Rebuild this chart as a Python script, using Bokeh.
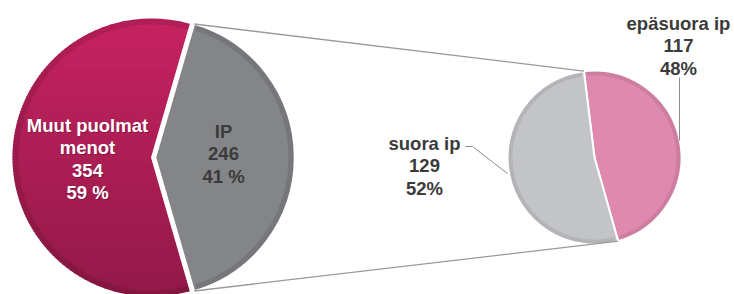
import math
import numpy as np
from bokeh.plotting import figure
from bokeh.models import Range1d
from bokeh.core.properties import value
from bokeh.embed import file_html
from bokeh.resources import INLINE

# ---- data ----
main_labels = ["Muut puolmat menot", "IP"]
main_values = [354, 246]
sub_labels = ["suora ip", "epäsuora ip"]
sub_values = [129, 117]

# ---- styles ----
MUUT_TOP = (198, 34, 96)
MUUT_BOT = (146, 25, 72)
C_IP = "#848589"
C_SUORA = "#C3C4C7"
C_EPA = "#DF89AE"
TXT_DARK = "#3B3B3B"
FONT = value("Liberation Sans")
FS = "18.5px"
LH = 22.4

W, H = 734, 294
p = figure(width=W, height=H, output_backend="svg", toolbar_location=None,
           x_range=Range1d(0, W), y_range=Range1d(0, H),
           min_border=0, outline_line_color=None, background_fill_color="white")
p.axis.visible = False
p.grid.visible = False

def Y(ry):
    return 294 - ry

def hexc(c):
    return "#%02x%02x%02x" % tuple(int(round(v)) for v in c)

# ---- big pie ----
total = sum(main_values)
ip_frac = main_values[1] / total
half = ip_frac * math.pi
R1 = 139
cy1 = Y(157)
cx_muut, cx_ip = 151, 155

# gradient bands of the circle (top light -> bottom dark)
band = 3.0
n_b = int(math.ceil(2 * R1 / band))
xs_l, ys_l, cols = [], [], []
for k in range(n_b):
    top = cy1 + R1 - k * band + 0.6
    bot = max(cy1 + R1 - (k + 1) * band - 0.6, cy1 - R1)
    top = min(top, cy1 + R1)
    yy = np.linspace(bot, top, 12)
    dx = np.sqrt(np.clip(R1 ** 2 - (yy - cy1) ** 2, 0, None))
    xs_l.append(list(cx_muut - dx) + list((cx_muut + dx)[::-1]))
    ys_l.append(list(yy) + list(yy[::-1]))
    t = k / (n_b - 1)
    cols.append(hexc([MUUT_TOP[i] + (MUUT_BOT[i] - MUUT_TOP[i]) * t for i in range(3)]))
p.patches(xs=xs_l, ys=ys_l, fill_color=cols, line_color=None)
# darker rim
p.annular_wedge(x=cx_muut, y=cy1, inner_radius=R1 - 6, outer_radius=R1,
                start_angle=half, end_angle=2 * math.pi - half,
                fill_color="black", fill_alpha=0.10, line_color=None)
# clear the IP sector of the base circle
p.wedge(x=cx_muut, y=cy1, radius=R1 + 2, start_angle=-half, end_angle=half,
        fill_color="white", line_color="white", line_width=1)
p.wedge(x=cx_ip, y=cy1, radius=R1, start_angle=-half, end_angle=half,
        fill_color=C_IP, line_color="white", line_width=1.5)
p.annular_wedge(x=cx_ip, y=cy1, inner_radius=R1 - 6, outer_radius=R1 - 0.8,
                start_angle=-half + 0.02, end_angle=half - 0.02,
                fill_color="black", fill_alpha=0.10, line_color=None)

# ---- small pie ----
sub_total = sum(sub_values)
R2 = 87
cx2, cy2 = 594, Y(157)
top_ang = math.radians(97)
epa_frac = sub_values[1] / sub_total
bot_ang = top_ang - epa_frac * 2 * math.pi

p.wedge(x=cx2, y=cy2, radius=R2, start_angle=bot_ang, end_angle=top_ang,
        fill_color=C_EPA, line_color="white", line_width=2)
p.wedge(x=cx2, y=cy2, radius=R2, start_angle=top_ang, end_angle=bot_ang + 2 * math.pi,
        fill_color=C_SUORA, line_color="white", line_width=2)
p.annular_wedge(x=cx2, y=cy2, inner_radius=R2 - 5, outer_radius=R2 - 1,
                start_angle=bot_ang + 0.03, end_angle=top_ang - 0.03,
                fill_color="black", fill_alpha=0.08, line_color=None)
p.annular_wedge(x=cx2, y=cy2, inner_radius=R2 - 5, outer_radius=R2 - 1,
                start_angle=top_ang + 0.03, end_angle=bot_ang + 2 * math.pi - 0.03,
                fill_color="black", fill_alpha=0.08, line_color=None)

# ---- connector lines ----
ip_top = (cx_ip + R1 * math.cos(half), cy1 + R1 * math.sin(half))
ip_bot = (cx_ip + R1 * math.cos(-half), cy1 + R1 * math.sin(-half))
sub_top = (cx2 + R2 * math.cos(top_ang), cy2 + R2 * math.sin(top_ang))
sub_bot = (cx2 + R2 * math.cos(bot_ang), cy2 + R2 * math.sin(bot_ang))
p.segment(x0=[ip_top[0], ip_bot[0]], y0=[ip_top[1], ip_bot[1]],
          x1=[sub_top[0], sub_bot[0]], y1=[sub_top[1], sub_bot[1]],
          line_color="#9A9A9A", line_width=1.3)

# ---- leader lines ----
p.line(x=[465, 472, 507], y=[Y(146), Y(146), Y(173)], line_color="#8C8C8C", line_width=1)
p.line(x=[679, 679], y=[Y(77), Y(140)], line_color="#8C8C8C", line_width=1)

# ---- labels ----
def label(lines, x, ry0, color, shadow=False):
    ys = [Y(ry0 + i * LH) for i in range(len(lines))]
    if shadow:
        p.text(x=[x + 1] * len(lines), y=[v - 1 for v in ys], text=lines,
               text_align="center", text_baseline="middle", text_color="black",
               text_alpha=0.25, text_font=FONT, text_font_size=FS,
               text_font_style="bold")
    p.text(x=[x] * len(lines), y=ys, text=lines, text_align="center",
           text_baseline="middle", text_color=color, text_font=FONT,
           text_font_size=FS, text_font_style="bold")

def pct(v, t):
    return round(100 * v / t)

label(["Muut puolmat", "menot", f"{main_values[0]}", f"{pct(main_values[0], total)} %"],
      87, 125, "white", shadow=True)
label([main_labels[1], f"{main_values[1]}", f"{pct(main_values[1], total)} %"],
      223, 131, TXT_DARK)
label([sub_labels[0], f"{sub_values[0]}", f"{pct(sub_values[0], sub_total)}%"],
      424, 143, TXT_DARK)
label([sub_labels[1], f"{sub_values[1]}", f"{pct(sub_values[1], sub_total)}%"],
      678, 23, TXT_DARK)

open("out.html", "w").write(file_html(p, INLINE))
